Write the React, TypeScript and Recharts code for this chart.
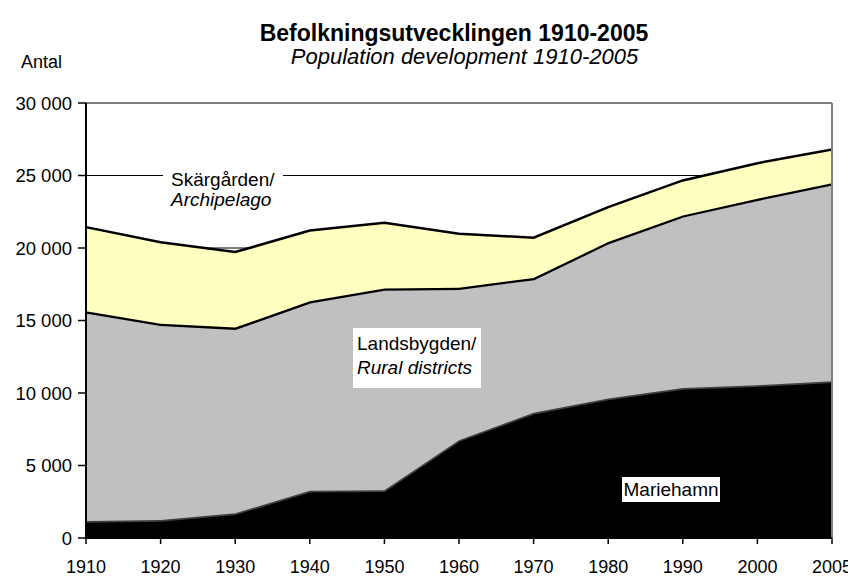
import React from 'react';
import {
  AreaChart, Area, XAxis, YAxis, CartesianGrid, ReferenceLine
} from 'recharts';

const years = ['1910', '1920', '1930', '1940', '1950', '1960', '1970', '1980', '1990', '2000', '2005'];
const mariehamn = [1170, 1240, 1700, 3260, 3300, 6750, 8630, 9620, 10350, 10540, 10810];
const landsbygden = [14460, 13540, 12810, 13060, 13900, 10510, 9300, 10790, 11900, 12860, 13660];
const skargarden = [5810, 5620, 5210, 4880, 4540, 3720, 2780, 2410, 2410, 2450, 2320];
const yTicks = [0, 5000, 10000, 15000, 20000, 25000, 30000];

const FONT = '"Liberation Sans", Arial, sans-serif';

const data = years.map((year, i) => ({
  year,
  mariehamn: mariehamn[i],
  landsbygden: landsbygden[i],
  skargarden: skargarden[i],
}));

const fmt = (v: number) =>
  v === 0 ? '0' : `${Math.floor(v / 1000)} ${String(v % 1000).padStart(3, '0')}`;

const label = (extra: React.CSSProperties): React.CSSProperties => ({
  position: 'absolute',
  background: '#fff',
  color: '#000',
  fontFamily: FONT,
  fontSize: 19,
  whiteSpace: 'nowrap',
  ...extra,
});

export default function App() {
  return (
    <div style={{ position: 'relative', width: 848, height: 571, background: '#fff', fontFamily: FONT }}>
      <AreaChart
        width={848}
        height={571}
        data={data}
        margin={{ top: 95, right: 24, bottom: 0, left: 0 }}
      >
        <CartesianGrid horizontal vertical={false} stroke="#000" strokeWidth={1} />
        <XAxis
          dataKey="year"
          height={41}
          tick={{ fill: '#000', fontSize: 18, fontFamily: FONT }}
          tickSize={6}
          tickMargin={16}
          axisLine={{ stroke: '#000', strokeWidth: 2 }}
          tickLine={{ stroke: '#000', strokeWidth: 1.5 }}
        />
        <YAxis
          width={78}
          domain={[0, 30000]}
          ticks={yTicks}
          tickFormatter={fmt}
          tick={{ fill: '#000', fontSize: 18.5, fontFamily: FONT }}
          tickSize={8}
          tickMargin={6}
          axisLine={{ stroke: '#000', strokeWidth: 2 }}
          tickLine={{ stroke: '#000', strokeWidth: 1.5 }}
          interval={0}
        />
        <Area
          type="linear"
          dataKey="mariehamn"
          stackId="1"
          fill="#000"
          fillOpacity={1}
          stroke="#404040"
          strokeWidth={3.5}
          isAnimationActive={false}
        />
        <Area
          type="linear"
          dataKey="landsbygden"
          stackId="1"
          fill="#c0c0c0"
          fillOpacity={1}
          stroke="#000"
          strokeWidth={4.5}
          isAnimationActive={false}
        />
        <Area
          type="linear"
          dataKey="skargarden"
          stackId="1"
          fill="#ffffc0"
          fillOpacity={1}
          stroke="#000"
          strokeWidth={2.5}
          isAnimationActive={false}
        />
        <ReferenceLine y={30000} stroke="#808080" strokeWidth={2} />
        <ReferenceLine x="2005" stroke="#808080" strokeWidth={2} />
      </AreaChart>

      <div style={{ position: 'absolute', left: 0, width: 892, top: 12, textAlign: 'center', fontSize: 23, fontWeight: 'bold', lineHeight: '26px' }}>
        Befolkningsutvecklingen 1910-2005
      </div>
      <div style={{ position: 'absolute', left: 0, width: 913, top: 36, textAlign: 'center', fontSize: 22, fontStyle: 'italic', lineHeight: '26px' }}>
        Population development 1910-2005
      </div>
      <div style={{ position: 'absolute', left: 13, top: 42, fontSize: 18, lineHeight: '24px' }}>
        Antal
      </div>

      <div style={label({ left: 155, top: 160, padding: '2px 8px 2px 8px', lineHeight: '20px' })}>
        Skärgården/<br /><i>Archipelago</i>
      </div>
      <div style={label({ left: 345, top: 320, padding: '4px 5px 8px 4px', lineHeight: '24px' })}>
        Landsbygden/<br /><i>Rural districts</i>
      </div>
      <div style={label({ left: 614, top: 469, padding: '0 1.5px', lineHeight: '25px' })}>
        Mariehamn
      </div>
    </div>
  );
}
